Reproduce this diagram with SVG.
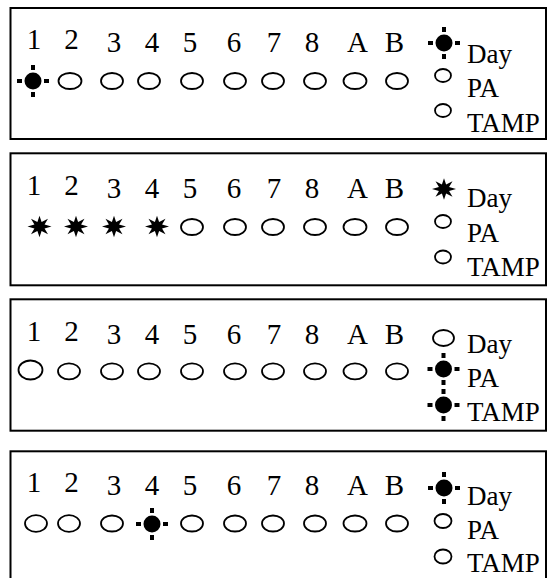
<svg xmlns="http://www.w3.org/2000/svg" xmlns:xlink="http://www.w3.org/1999/xlink" width="552" height="578" viewBox="0 0 552 578">
<style>
.panel{fill:#fff;stroke:#000;stroke-width:2}
.d{text-anchor:middle;font-size:29px}
.off{fill:#fff;stroke:#000;stroke-width:1.8}
</style>
<defs>
<g id="sun">
<circle r="8.5" fill="#000"/>
<rect x="-16" y="-2" width="5" height="4" fill="#000"/>
<rect x="11" y="-2" width="5" height="4" fill="#000"/>
<rect x="-2" y="-16" width="4" height="5" fill="#000"/>
<rect x="-2" y="11" width="4" height="5" fill="#000"/>
</g>
<polygon id="star" fill="#000" points="12,0 5.08,2.1 8.49,8.49 2.1,5.08 0,12 -2.1,5.08 -8.49,8.49 -5.08,2.1 -12,0 -5.08,-2.1 -8.49,-8.49 -2.1,-5.08 0,-12 2.1,-5.08 8.49,-8.49 5.08,-2.1" transform="scale(1,0.9)"/>
</defs>
<rect width="552" height="578" fill="#fff"/>
<g font-family="Liberation Serif, Times New Roman, DejaVu Serif, serif" font-size="27" fill="#000">

<g id="panel1">
<rect class="panel" x="10.5" y="8" width="535.5" height="131"/>
<text class="d" x="34" y="49.3">1</text><text class="d" x="71.5" y="49.3">2</text>
<text class="d" x="114" y="52">3</text><text class="d" x="152" y="52">4</text>
<text class="d" x="190" y="52">5</text><text class="d" x="234" y="52">6</text>
<text class="d" x="274" y="52">7</text><text class="d" x="312" y="52">8</text>
<text class="d" x="357.5" y="52">A</text><text class="d" x="394.5" y="52">B</text>
<use xlink:href="#sun" x="33" y="81"/>
<ellipse class="off" cx="70" cy="81" rx="11.5" ry="8"/>
<ellipse class="off" cx="112" cy="81" rx="11" ry="8"/>
<ellipse class="off" cx="149" cy="81" rx="11" ry="8"/>
<ellipse class="off" cx="192" cy="81" rx="11" ry="8"/>
<ellipse class="off" cx="235" cy="81" rx="11" ry="8"/>
<ellipse class="off" cx="273" cy="81" rx="11" ry="8"/>
<ellipse class="off" cx="315" cy="81" rx="11" ry="8"/>
<ellipse class="off" cx="355" cy="81" rx="11.5" ry="8"/>
<ellipse class="off" cx="397" cy="81" rx="11" ry="8"/>
<use xlink:href="#sun" x="444" y="43"/>
<ellipse class="off" cx="443" cy="75.5" rx="8" ry="6.5"/>
<ellipse class="off" cx="443" cy="110.5" rx="8" ry="6.5"/>
<text x="467" y="63">Day</text>
<text x="467" y="97">PA</text>
<text x="467" y="132">TAMP</text>
</g>

<g id="panel2">
<rect class="panel" x="10.5" y="153.3" width="535.5" height="132"/>
<text class="d" x="34" y="195.3">1</text><text class="d" x="71.5" y="195.3">2</text>
<text class="d" x="114" y="198">3</text><text class="d" x="152" y="198">4</text>
<text class="d" x="190" y="198">5</text><text class="d" x="234" y="198">6</text>
<text class="d" x="274" y="198">7</text><text class="d" x="312" y="198">8</text>
<text class="d" x="357.5" y="198">A</text><text class="d" x="394.5" y="198">B</text>
<use xlink:href="#star" x="39.5" y="226.5"/>
<use xlink:href="#star" x="76" y="226.5"/>
<use xlink:href="#star" x="114" y="226.5"/>
<use xlink:href="#star" x="157" y="226.5"/>
<ellipse class="off" cx="192" cy="227" rx="11" ry="8"/>
<ellipse class="off" cx="235" cy="227" rx="11" ry="8"/>
<ellipse class="off" cx="273" cy="227" rx="11" ry="8"/>
<ellipse class="off" cx="315" cy="227" rx="11" ry="8"/>
<ellipse class="off" cx="355" cy="227" rx="11.5" ry="8"/>
<ellipse class="off" cx="397" cy="227" rx="11" ry="8"/>
<use xlink:href="#star" x="444" y="189"/>
<ellipse class="off" cx="443" cy="221.5" rx="8" ry="6.5"/>
<ellipse class="off" cx="443" cy="257" rx="8" ry="6.5"/>
<text x="467" y="207">Day</text>
<text x="467" y="242">PA</text>
<text x="467" y="276">TAMP</text>
</g>

<g id="panel3">
<rect class="panel" x="10.5" y="299.3" width="535.5" height="131.4"/>
<text class="d" x="34" y="341">1</text><text class="d" x="71.5" y="341">2</text>
<text class="d" x="114" y="344">3</text><text class="d" x="152" y="344">4</text>
<text class="d" x="190" y="344">5</text><text class="d" x="234" y="344">6</text>
<text class="d" x="274" y="344">7</text><text class="d" x="312" y="344">8</text>
<text class="d" x="357.5" y="344">A</text><text class="d" x="394.5" y="344">B</text>
<ellipse class="off" cx="30.5" cy="370" rx="12" ry="9.5"/>
<ellipse class="off" cx="69" cy="371.3" rx="11" ry="8"/>
<ellipse class="off" cx="112" cy="371.3" rx="11" ry="8"/>
<ellipse class="off" cx="149" cy="371.3" rx="11" ry="8"/>
<ellipse class="off" cx="192" cy="371.3" rx="11" ry="8"/>
<ellipse class="off" cx="235" cy="371.3" rx="11" ry="8"/>
<ellipse class="off" cx="273" cy="371.3" rx="11" ry="8"/>
<ellipse class="off" cx="315" cy="371.3" rx="11" ry="8"/>
<ellipse class="off" cx="355" cy="371.3" rx="11.5" ry="8"/>
<ellipse class="off" cx="397" cy="371.3" rx="11" ry="8"/>
<ellipse class="off" cx="443.5" cy="338" rx="10.5" ry="8"/>
<use xlink:href="#sun" x="443.5" y="369"/>
<use xlink:href="#sun" x="443.5" y="405"/>
<text x="467" y="353">Day</text>
<text x="467" y="387">PA</text>
<text x="467" y="420.5">TAMP</text>
</g>

<g id="panel4">
<rect class="panel" x="10.5" y="451.3" width="535.5" height="140"/>
<text class="d" x="34" y="492">1</text><text class="d" x="71.5" y="492">2</text>
<text class="d" x="114" y="495">3</text><text class="d" x="152" y="495">4</text>
<text class="d" x="190" y="495">5</text><text class="d" x="234" y="495">6</text>
<text class="d" x="274" y="495">7</text><text class="d" x="312" y="495">8</text>
<text class="d" x="357.5" y="495">A</text><text class="d" x="394.5" y="495">B</text>
<ellipse class="off" cx="36" cy="523.5" rx="11" ry="8.3"/>
<ellipse class="off" cx="69" cy="523.5" rx="11" ry="8.3"/>
<ellipse class="off" cx="112" cy="523.5" rx="11" ry="8"/>
<use xlink:href="#sun" x="152" y="524"/>
<ellipse class="off" cx="192" cy="523.5" rx="11" ry="8"/>
<ellipse class="off" cx="235" cy="523.5" rx="11" ry="8"/>
<ellipse class="off" cx="273" cy="523.5" rx="11" ry="8"/>
<ellipse class="off" cx="315" cy="523.5" rx="11" ry="8"/>
<ellipse class="off" cx="355" cy="523.5" rx="11.5" ry="8"/>
<ellipse class="off" cx="397" cy="523.5" rx="11" ry="8"/>
<use xlink:href="#sun" x="444" y="488"/>
<ellipse class="off" cx="443" cy="521" rx="8.5" ry="7"/>
<ellipse class="off" cx="443" cy="556.5" rx="8.5" ry="7"/>
<text x="467" y="504.5">Day</text>
<text x="467" y="539">PA</text>
<text x="467" y="572">TAMP</text>
</g>

</g>
</svg>
